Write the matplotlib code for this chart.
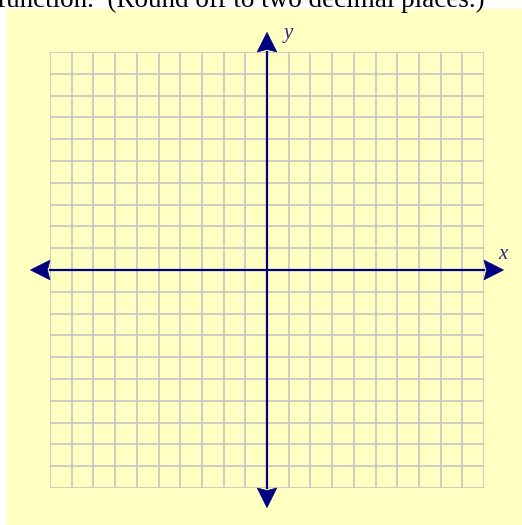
import matplotlib
matplotlib.use("Agg")
import matplotlib.pyplot as plt
from matplotlib.patches import Rectangle, Polygon
import numpy as np

# Data
x_min, x_max = -10, 10
y_min, y_max = -10, 10
grid_step = 1
caption = "function.  (Round off to two decimal places.)"
x_label = "x"
y_label = "y"

W, H = 522, 525
fig = plt.figure(figsize=(W / 100, H / 100), dpi=100)
fig.patch.set_facecolor("white")

# yellow panel
fig.patches.append(Rectangle((6 / W, 0), 1 - 6 / W, (H - 9) / H,
                             transform=fig.transFigure, facecolor="#FFFFC2",
                             edgecolor="none", zorder=-10))

# caption text cut off at top (as in the reference)
fig.text(-0.005, 1 - 7 / H, caption, family="Liberation Serif", fontsize=19.5,
         color="black", ha="left", va="baseline")

ax = fig.add_axes([50 / W, (H - 488) / H, 434 / W, 436 / H])
ax.set_xlim(x_min, x_max)
ax.set_ylim(y_min, y_max)
ax.set_facecolor("none")
for s in ax.spines.values():
    s.set_visible(False)
ax.set_xticks([])
ax.set_yticks([])

gcol = "#C9C9C2"
for gx in np.arange(x_min, x_max + grid_step, grid_step):
    ax.plot([gx, gx], [y_min, y_max], color=gcol, lw=1.3, zorder=1, solid_capstyle="butt")
for gy in np.arange(y_min, y_max + grid_step, grid_step):
    ax.plot([x_min, x_max], [gy, gy], color=gcol, lw=1.3, zorder=1, solid_capstyle="butt")

acol = "#000080"
ax.plot([x_min, x_max], [0, 0], color=acol, lw=1.6, zorder=3, clip_on=False)
ax.plot([0, 0], [y_min, y_max], color=acol, lw=1.6, zorder=3, clip_on=False)

# arrow heads
L, hw, notch = 0.9, 0.45, 0.12
def head(tip, direction):
    d = np.array(direction, float)
    p = np.array([-d[1], d[0]])
    tip = np.array(tip, float)
    back = tip - d * L
    pts = [tip, back + p * hw, back + d * notch, back - p * hw]
    ax.add_patch(Polygon(pts, closed=True, facecolor=acol, edgecolor=acol,
                         lw=0.5, zorder=4, clip_on=False))

head((x_max + L, 0), (1, 0))
head((x_min - L, 0), (-1, 0))
head((0, y_max + L), (0, 1))
head((0, y_min - L), (0, -1))

ax.text(x_max + 0.85, 0.72, x_label, family="Liberation Serif", style="italic",
        fontsize=15, color="#2A2A8A", ha="center", va="center", clip_on=False)
ax.text(1.0, y_max + 0.85, y_label, family="Liberation Serif", style="italic",
        fontsize=15, color="#2A2A8A", ha="center", va="center", clip_on=False)

fig.savefig("out.png", dpi=100)
